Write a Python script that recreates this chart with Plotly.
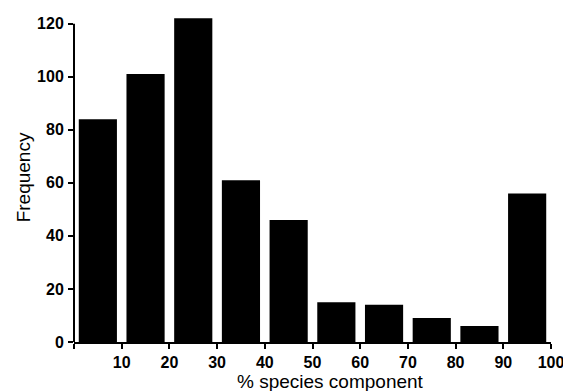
import plotly.graph_objects as go

bin_centers = [5, 15, 25, 35, 45, 55, 65, 75, 85, 95]
frequency = [84, 101, 122, 61, 46, 15, 14, 9, 6, 56]
x_tickvals = [0, 10, 20, 30, 40, 50, 60, 70, 80, 90, 100]
x_ticktext = ["", "10", "20", "30", "40", "50", "60", "70", "80", "90", "100"]
y_tickvals = [0, 20, 40, 60, 80, 100, 120]

fig = go.Figure()
fig.add_trace(go.Bar(
    x=bin_centers, y=frequency, width=8,
    marker=dict(color="black", line=dict(width=0)),
    showlegend=False,
))

fam = "Liberation Sans, Arial, sans-serif"
tickfont = dict(family=fam, size=16, color="black", weight="bold")
fig.update_layout(
    width=563, height=383,
    margin=dict(l=66, r=15, t=7, b=49),
    paper_bgcolor="white", plot_bgcolor="white",
    xaxis=dict(
        range=[0, 100], tickvals=x_tickvals, ticktext=x_ticktext,
        showgrid=False, zeroline=False, showline=True, linecolor="black", linewidth=2,
        ticks="outside", ticklen=5, tickwidth=2, tickcolor="black",
        tickfont=tickfont,
    ),
    yaxis=dict(
        range=[0, 122.5], tickvals=y_tickvals,
        showgrid=False, zeroline=False, showline=False,
        ticks="outside", ticklen=5, tickwidth=2, tickcolor="black",
        tickfont=tickfont, ticklabelstandoff=1,
    ),
    shapes=[dict(type="line", xref="paper", yref="y", x0=0, x1=0, y0=0, y1=120,
                 line=dict(color="black", width=2))],
    annotations=[
        dict(text="% species component", xref="paper", yref="paper", x=0.537, y=-0.122,
             xanchor="center", yanchor="middle", showarrow=False,
             font=dict(family=fam, size=19, color="black")),
        dict(text="Frequency", xref="paper", yref="paper", x=-0.106, y=0.508,
             xanchor="center", yanchor="middle", showarrow=False, textangle=-90,
             font=dict(family=fam, size=19, color="black")),
    ],
)

fig.write_html("out.html")
